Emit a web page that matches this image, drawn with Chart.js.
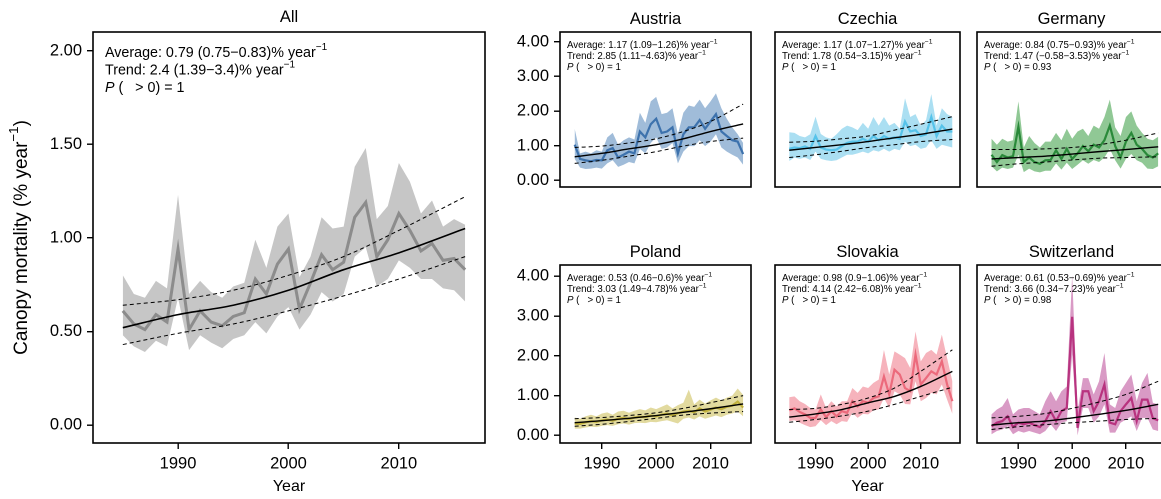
<!DOCTYPE html>
<html><head><meta charset="utf-8">
<script src="https://cdn.jsdelivr.net/npm/chart.js@4.4.1/dist/chart.umd.min.js"></script>
<style>
html,body{margin:0;padding:0;background:#fff;overflow:hidden;width:1161px;height:499px;position:relative;}
canvas{position:absolute;}
</style></head><body>
<script>
// ---------------- DATA ----------------
const years = [1985,1986,1987,1988,1989,1990,1991,1992,1993,1994,1995,1996,1997,1998,1999,2000,
               2001,2002,2003,2004,2005,2006,2007,2008,2009,2010,2011,2012,2013,2014,2015,2016];
const trendYears = [1985,1990,1995,2000,2005,2010,2016];
const xTicks = [1990,2000,2010];
const yTicksAll = [0,0.5,1,1.5,2];
const yTicksSmall = [0,1,2,3,4];

const allMean  = [0.61,0.54,0.51,0.59,0.55,0.94,0.51,0.61,0.55,0.53,0.58,0.60,0.78,0.70,0.86,0.94,0.62,0.76,0.91,0.83,0.87,1.11,1.19,0.90,0.99,1.13,1.04,0.93,0.97,0.88,0.89,0.83];
const allUpper = [0.80,0.70,0.68,0.77,0.73,1.23,0.70,0.77,0.71,0.68,0.74,0.76,0.99,0.84,1.06,1.13,0.79,0.90,1.11,1.05,1.06,1.38,1.48,1.10,1.17,1.40,1.30,1.13,1.20,1.06,1.10,1.07];
const allLower = [0.48,0.42,0.39,0.45,0.42,0.68,0.40,0.48,0.44,0.41,0.46,0.48,0.55,0.49,0.58,0.63,0.51,0.59,0.71,0.66,0.70,0.90,0.95,0.74,0.78,0.88,0.84,0.78,0.78,0.73,0.72,0.66];
const allTrend   = [0.52,0.59,0.64,0.72,0.83,0.92,1.05];
const allTrendUp = [0.64,0.67,0.72,0.80,0.90,1.04,1.22];
const allTrendLo = [0.43,0.49,0.54,0.61,0.69,0.78,0.90];

const austriaMean  = [1.03,0.62,0.58,0.55,0.59,0.58,0.87,0.93,0.66,0.74,0.83,0.78,1.41,1.24,1.62,1.78,1.37,1.41,1.53,0.78,1.33,1.53,1.53,1.74,1.49,1.70,1.91,1.41,1.28,1.16,1.12,0.76];
const austriaUpper = [1.49,0.78,0.83,0.78,0.87,0.83,1.24,1.37,1.03,1.16,1.24,1.18,1.95,1.66,2.28,2.41,1.91,1.95,2.08,1.33,1.95,2.16,2.12,2.33,2.08,2.28,2.51,2.08,1.78,1.53,1.33,1.08];
const austriaLower = [0.62,0.37,0.33,0.34,0.37,0.34,0.49,0.58,0.39,0.45,0.53,0.49,0.91,0.78,1.08,1.24,0.91,0.95,1.08,0.49,0.83,0.99,0.99,1.16,0.99,1.12,1.33,0.95,0.83,0.74,0.66,0.45];
const austriaTrend   = [0.68,0.78,0.91,1.03,1.20,1.41,1.63];
const austriaTrendUp = [0.95,0.99,1.08,1.20,1.41,1.70,2.20];
const austriaTrendLo = [0.49,0.58,0.70,0.83,0.99,1.12,1.22];

const czechiaMean  = [0.91,0.95,0.93,0.98,0.91,1.28,0.95,0.89,0.87,0.89,0.99,1.08,1.12,1.12,1.20,1.12,1.28,1.16,1.28,1.20,1.24,1.20,1.70,1.41,1.45,1.28,1.33,1.83,1.28,1.58,1.41,1.41];
const czechiaUpper = [1.39,1.37,1.28,1.24,1.33,1.84,1.34,1.24,1.20,1.33,1.49,1.58,1.53,1.45,1.66,1.49,1.83,1.58,1.83,1.58,1.66,1.49,2.37,1.83,1.91,1.58,1.74,2.49,1.58,2.08,1.91,1.83];
const czechiaLower = [0.56,0.66,0.62,0.66,0.59,0.83,0.62,0.58,0.56,0.58,0.66,0.74,0.74,0.78,0.83,0.78,0.87,0.83,0.91,0.83,0.91,0.87,1.12,0.99,1.03,0.91,0.95,1.16,0.91,1.03,0.99,0.95];
const czechiaTrend   = [0.87,0.95,1.03,1.12,1.23,1.33,1.48];
const czechiaTrendUp = [1.10,1.13,1.20,1.28,1.45,1.62,1.84];
const czechiaTrendLo = [0.66,0.74,0.84,0.95,1.03,1.12,1.18];

const germanyMean  = [0.74,0.53,0.73,0.66,0.70,1.55,0.53,0.66,0.53,0.48,0.58,0.59,0.87,0.62,0.91,0.62,0.78,0.99,0.84,1.03,0.95,1.16,1.58,0.99,0.66,1.12,1.37,1.03,0.91,0.73,0.66,0.78];
const germanyUpper = [1.20,1.03,1.20,1.12,1.16,2.28,0.95,1.28,1.08,0.95,1.12,1.12,1.37,1.16,1.49,1.20,1.41,1.49,1.28,1.58,1.49,1.83,2.33,1.53,1.28,1.83,1.99,1.58,1.37,1.20,1.16,1.26];
const germanyLower = [0.41,0.26,0.37,0.33,0.37,0.74,0.24,0.34,0.26,0.23,0.28,0.28,0.49,0.31,0.51,0.33,0.45,0.58,0.48,0.59,0.53,0.66,0.91,0.58,0.34,0.62,0.76,0.58,0.51,0.34,0.33,0.41];
const germanyTrend   = [0.62,0.66,0.70,0.76,0.83,0.89,0.97];
const germanyTrendUp = [0.89,0.89,0.91,0.95,1.03,1.16,1.37];
const germanyTrendLo = [0.41,0.48,0.53,0.59,0.64,0.66,0.68];

const polandMean  = [0.30,0.29,0.33,0.36,0.34,0.38,0.40,0.37,0.42,0.44,0.41,0.45,0.47,0.46,0.50,0.48,0.52,0.55,0.50,0.56,0.60,0.62,0.58,0.68,0.60,0.65,0.70,0.66,0.72,0.75,0.85,0.70];
const polandUpper = [0.45,0.42,0.48,0.52,0.48,0.55,0.58,0.52,0.60,0.62,0.57,0.62,0.66,0.63,0.70,0.66,0.72,0.78,0.68,0.76,0.82,1.15,0.78,0.90,0.80,0.88,0.95,0.88,0.95,1.00,1.18,1.02];
const polandLower = [0.17,0.17,0.20,0.22,0.21,0.24,0.26,0.24,0.28,0.30,0.27,0.31,0.32,0.31,0.34,0.33,0.36,0.38,0.34,0.30,0.42,0.45,0.40,0.48,0.42,0.46,0.50,0.46,0.52,0.55,0.60,0.48];
const polandTrend   = [0.32,0.37,0.43,0.50,0.58,0.67,0.79];
const polandTrendUp = [0.42,0.45,0.50,0.57,0.68,0.82,1.00];
const polandTrendLo = [0.23,0.28,0.35,0.43,0.51,0.56,0.60];

const slovakiaMean  = [0.63,0.68,0.59,0.53,0.44,0.44,0.65,0.46,0.61,0.48,0.61,0.57,0.86,0.73,0.86,0.82,0.94,0.98,1.48,1.03,1.65,1.53,1.19,1.11,2.03,1.28,1.44,1.61,1.53,1.86,1.28,0.86];
const slovakiaUpper = [0.96,0.98,0.86,0.79,0.69,0.65,1.03,0.69,0.86,0.73,0.86,0.86,1.19,1.07,1.23,1.19,1.32,1.40,2.15,1.53,2.11,2.03,1.94,1.69,2.61,1.86,2.07,2.15,2.03,2.53,1.94,1.36];
const slovakiaLower = [0.36,0.38,0.32,0.26,0.21,0.23,0.38,0.26,0.36,0.28,0.36,0.34,0.57,0.44,0.54,0.53,0.63,0.65,0.94,0.69,1.11,1.03,0.79,0.78,1.36,0.86,0.94,1.07,1.03,1.28,0.90,0.54];
const slovakiaTrend   = [0.46,0.54,0.65,0.82,0.98,1.23,1.61];
const slovakiaTrendUp = [0.65,0.68,0.78,0.94,1.19,1.61,2.15];
const slovakiaTrendLo = [0.33,0.40,0.49,0.61,0.78,0.98,1.21];

const switzerlandMean  = [0.23,0.32,0.36,0.48,0.21,0.32,0.28,0.32,0.26,0.21,0.36,0.61,0.36,0.61,0.69,2.98,0.19,1.11,1.11,0.61,0.86,1.28,0.32,0.28,0.61,0.78,0.94,0.36,0.90,0.90,0.43,0.38];
const switzerlandUpper = [0.53,0.65,0.73,0.94,0.53,0.65,0.69,0.69,0.61,0.53,0.86,1.11,0.86,1.11,1.23,4.03,0.61,1.44,1.44,1.03,1.36,2.07,0.78,0.69,1.11,1.32,1.53,0.86,1.32,1.57,0.82,0.78];
const switzerlandLower = [0.03,0.11,0.15,0.23,0.03,0.11,0.07,0.11,0.07,0.03,0.11,0.28,0.11,0.32,0.36,2.03,0.00,0.69,0.69,0.32,0.48,0.78,0.07,0.07,0.32,0.40,0.48,0.11,0.44,0.44,0.15,0.11];
const switzerlandTrend   = [0.26,0.32,0.36,0.44,0.53,0.63,0.78];
const switzerlandTrendUp = [0.44,0.48,0.55,0.68,0.84,1.03,1.36];
const switzerlandTrendLo = [0.15,0.22,0.27,0.32,0.36,0.40,0.43];

// text
const panelTitles = ['All','Austria','Czechia','Germany','Poland','Slovakia','Switzerland'];
const averageText = ['Average: 0.79 (0.75\u22120.83)% year','Average: 1.17 (1.09\u22121.26)% year','Average: 1.17 (1.07\u22121.27)% year','Average: 0.84 (0.75\u22120.93)% year','Average: 0.53 (0.46\u22120.6)% year','Average: 0.98 (0.9\u22121.06)% year','Average: 0.61 (0.53\u22120.69)% year'];
const trendText = ['Trend: 2.4 (1.39\u22123.4)% year','Trend: 2.85 (1.11\u22124.63)% year','Trend: 1.78 (0.54\u22123.15)% year','Trend: 1.47 (\u22120.58\u22123.53)% year','Trend: 3.03 (1.49\u22124.78)% year','Trend: 4.14 (2.42\u22126.08)% year','Trend: 3.66 (0.34\u22127.23)% year'];
const probText = ['1','1','1','0.93','1','1','0.98'];
const yAxisTitle = 'Canopy mortality (% year';
const xAxisTitle = 'Year';

// ---------------- DRAWING ----------------
const FONT = '"Liberation Sans", Arial, Helvetica, sans-serif';
Chart.defaults.font.family = FONT;
Chart.defaults.color = '#000';

function drawRich(ctx, x, y, size, segs, measureOnly) {
  let cx = x;
  for (const s of segs) {
    const fs = s.sup ? size * 0.7 : size;
    ctx.font = (s.it ? 'italic ' : '') + fs + 'px ' + FONT;
    if (!measureOnly) ctx.fillText(s.t, cx, y + (s.sup ? -size * 0.4 : 0));
    cx += ctx.measureText(s.t).width;
  }
  return cx - x;
}

const decor = {
  id: 'decor',
  afterDraw(chart, args, o) {
    const {ctx, chartArea: a} = chart;
    ctx.save();
    ctx.strokeStyle = '#000';
    ctx.lineWidth = o.boxWidth;
    ctx.strokeRect(a.left, a.top, a.right - a.left, a.bottom - a.top);
    ctx.fillStyle = '#000';
    ctx.textBaseline = 'alphabetic';
    ctx.textAlign = 'center';
    ctx.font = o.titleSize + 'px ' + FONT;
    ctx.fillText(o.title, (a.left + a.right) / 2, a.top - o.titleGap);
    ctx.textAlign = 'left';
    ctx.textBaseline = 'middle';
    const x0 = a.left + o.textDx;
    let y0 = a.top + o.textDy;
    drawRich(ctx, x0, y0, o.textSize, [{t: o.avg}, {t: '\u22121', sup: true}]);
    y0 += o.lineGap;
    drawRich(ctx, x0, y0, o.textSize, [{t: o.trend}, {t: '\u22121', sup: true}]);
    y0 += o.lineGap;
    drawRich(ctx, x0, y0, o.textSize, [{t: 'P', it: true}, {t: ' (   > 0) = ' + o.prob}]);
    if (o.yTitle) {
      ctx.translate(o.yTitleX, (a.top + a.bottom) / 2);
      ctx.rotate(-Math.PI / 2);
      const segs = [{t: yAxisTitle}, {t: '\u22121', sup: true}, {t: ')'}];
      const w = drawRich(ctx, 0, 0, o.yTitleSize, segs, true);
      drawRich(ctx, -w / 2, 0, o.yTitleSize, segs);
    }
    ctx.restore();
  }
};

function pts(xs, ys) { return xs.map((x, i) => ({x: x, y: ys[i]})); }

function makePanel(p) {
  const cv = document.createElement('canvas');
  cv.width = p.cw; cv.height = p.ch;
  cv.style.left = p.cx + 'px'; cv.style.top = p.cy + 'px';
  cv.style.width = p.cw + 'px'; cv.style.height = p.ch + 'px';
  document.body.appendChild(cv);
  const [l, t, r, b] = p.box;
  const tickFont = {family: FONT, size: 16.5};
  const gridCfg = {drawOnChartArea: false, drawTicks: true, tickLength: 6, color: '#000', lineWidth: 1.4};
  new Chart(cv, {
    type: 'line',
    data: {
      datasets: [
        {data: pts(years, p.upper), borderWidth: 0, pointRadius: 0, fill: '+1', backgroundColor: p.band, order: 10, tension: 0},
        {data: pts(years, p.lower), borderWidth: 0, pointRadius: 0, fill: false, backgroundColor: p.band, order: 10, tension: 0},
        {data: pts(years, p.mean), borderColor: p.line, borderWidth: p.meanW, pointRadius: 0, fill: false, order: 5, tension: 0},
        {data: pts(trendYears, p.trend), borderColor: '#000', borderWidth: p.trendW, pointRadius: 0, fill: false, order: 1, cubicInterpolationMode: 'monotone'},
        {data: pts(trendYears, p.trendUp), borderColor: '#000', borderWidth: 1, borderDash: [4, 3], pointRadius: 0, fill: false, order: 1, cubicInterpolationMode: 'monotone'},
        {data: pts(trendYears, p.trendLo), borderColor: '#000', borderWidth: 1, borderDash: [4, 3], pointRadius: 0, fill: false, order: 1, cubicInterpolationMode: 'monotone'}
      ]
    },
    options: {
      responsive: false, animation: false, devicePixelRatio: 2,
      layout: {padding: {left: p.showY ? 0 : l - p.cx, top: t - p.cy, right: p.cx + p.cw - r, bottom: p.showX ? 0 : p.cy + p.ch - b}},
      plugins: {
        legend: {display: false}, tooltip: {enabled: false}, title: {display: false},
        decor: {boxWidth: 1.6, title: p.title, titleSize: 16.5, titleGap: p.titleGap,
                avg: p.avg, trend: p.trendTxt, prob: p.prob,
                textSize: p.textSize, textDx: p.textDx, textDy: p.textDy, lineGap: p.lineGap,
                yTitle: p.yTitle || false, yTitleX: 22, yTitleSize: 19}
      },
      scales: {
        x: {
          type: 'linear', min: p.xMin, max: p.xMax, display: p.showX,
          afterBuildTicks: s => { s.ticks = xTicks.map(v => ({value: v})); },
          afterFit: s => { s.height = p.cy + p.ch - b; },
          grid: gridCfg, border: {display: false},
          ticks: {autoSkip: false, maxRotation: 0, padding: 5, color: '#000', font: tickFont, callback: v => String(v)},
          title: {display: !!p.xTitle, text: xAxisTitle, color: '#000', font: {family: FONT, size: 16}, padding: {top: 0, bottom: 3}}
        },
        y: {
          type: 'linear', min: p.yMin, max: p.yMax, display: p.showY,
          afterBuildTicks: s => { s.ticks = p.yTicks.map(v => ({value: v})); },
          afterFit: s => { s.width = l - p.cx; },
          grid: gridCfg, border: {display: false},
          ticks: {padding: 5, color: '#000', font: tickFont, callback: v => Number(v).toFixed(2)}
        }
      }
    },
    plugins: [decor]
  });
}

const smallCommon = {xMin: 1982.3, xMax: 2017.45, yMin: -0.19, yMax: 4.28, yTicks: yTicksSmall,
  meanW: 2.2, trendW: 1.4, textSize: 9.7, textDx: 7, textDy: 13.5, lineGap: 11, titleGap: 8};

makePanel({cx: 0, cy: 0, cw: 490, ch: 499, box: [93, 32, 485, 443], showX: true, showY: true, xTitle: true, yTitle: true,
  xMin: 1982.3, xMax: 2017.8, yMin: -0.096, yMax: 2.10, yTicks: yTicksAll,
  mean: allMean, upper: allUpper, lower: allLower, trend: allTrend, trendUp: allTrendUp, trendLo: allTrendLo,
  band: '#c6c6c6', line: '#8c8c8c', meanW: 3, trendW: 1.6,
  title: panelTitles[0], avg: averageText[0], trendTxt: trendText[0], prob: probText[0],
  textSize: 14.3, textDx: 12, textDy: 21, lineGap: 17.5, titleGap: 10});

const smalls = [
  {cx: 495, cy: 0, cw: 262, ch: 235, box: [560, 32, 751, 211], showX: false, showY: true,
   mean: austriaMean, upper: austriaUpper, lower: austriaLower, trend: austriaTrend, trendUp: austriaTrendUp, trendLo: austriaTrendLo,
   band: '#a0bcd9', line: '#3d72ad', k: 1},
  {cx: 757, cy: 0, cw: 210, ch: 235, box: [766, 32, 960, 211], showX: false, showY: false,
   mean: czechiaMean, upper: czechiaUpper, lower: czechiaLower, trend: czechiaTrend, trendUp: czechiaTrendUp, trendLo: czechiaTrendLo,
   band: '#abdff2', line: '#56c3ea', k: 2},
  {cx: 967, cy: 0, cw: 210, ch: 235, box: [972, 32, 1166, 211], showX: false, showY: false,
   mean: germanyMean, upper: germanyUpper, lower: germanyLower, trend: germanyTrend, trendUp: germanyTrendUp, trendLo: germanyTrendLo,
   band: '#90c895', line: '#2a8a3a', k: 3},
  {cx: 495, cy: 235, cw: 262, ch: 264, box: [560, 265, 751, 443], showX: true, showY: true,
   mean: polandMean, upper: polandUpper, lower: polandLower, trend: polandTrend, trendUp: polandTrendUp, trendLo: polandTrendLo,
   band: '#e2da9f', line: '#c2b23e', k: 4},
  {cx: 757, cy: 235, cw: 210, ch: 264, box: [766, 265, 960, 443], showX: true, showY: false, xTitle: true,
   mean: slovakiaMean, upper: slovakiaUpper, lower: slovakiaLower, trend: slovakiaTrend, trendUp: slovakiaTrendUp, trendLo: slovakiaTrendLo,
   band: '#f6b3bc', line: '#ec6a7c', k: 5},
  {cx: 967, cy: 235, cw: 210, ch: 264, box: [972, 265, 1166, 443], showX: true, showY: false,
   mean: switzerlandMean, upper: switzerlandUpper, lower: switzerlandLower, trend: switzerlandTrend, trendUp: switzerlandTrendUp, trendLo: switzerlandTrendLo,
   band: '#d99ac5', line: '#b8337f', k: 6}
];
smalls.forEach(s => makePanel(Object.assign({}, smallCommon, s, {
  title: panelTitles[s.k], avg: averageText[s.k], trendTxt: trendText[s.k], prob: probText[s.k]})));
</script>
</body></html>
